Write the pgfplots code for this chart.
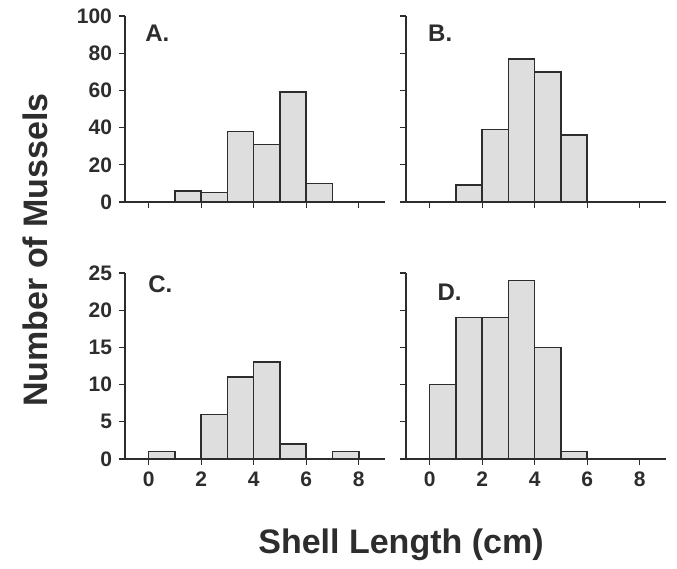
\documentclass[border=0pt]{standalone}
\usepackage{pgfplots}
\pgfplotsset{compat=1.18}
\usepackage{fontspec}
\setmainfont{Liberation Sans}
\definecolor{inkgray}{RGB}{45,45,45}
\definecolor{barfill}{RGB}{222,222,222}

\pgfplotsset{
  panel/.style={
    scale only axis, width=130pt, height=93pt,
    anchor=south west,
    xmin=-0.9, xmax=9, ymin=0,
    axis x line*=bottom, axis y line*=left,
    xtick={0,2,4,6,8},
    tick align=outside, xtick pos=bottom, ytick pos=left,
    major tick length=3pt,
    axis line style={inkgray, line width=0.8pt},
    every tick/.style={inkgray, line width=0.6pt},
    tick label style={font=\fontsize{10.5}{12}\selectfont\bfseries, text=inkgray},
    /pgf/number format/assume math mode=true,
    clip=false,
  },
  hist/.style={ybar interval, fill=barfill, draw=inkgray, line width=0.8pt},
}
\tikzset{letter/.style={anchor=north west, inner sep=0pt,
    font=\fontsize{12}{14}\selectfont\bfseries, text=inkgray}}

\begin{document}
\begin{tikzpicture}
\useasboundingbox (0,0) rectangle (338.5pt,284.5pt);

% A
\begin{axis}[panel, at={(62.5pt,183.5pt)}, ymax=100, ytick={0,20,...,100}, xticklabels={,,,,}]
\addplot[hist] coordinates {(1,6) (2,5) (3,38) (4,31) (5,59) (6,10) (7,0)};
\node[letter] at (rel axis cs:0.077,0.952) {A.};
\end{axis}

% B
\begin{axis}[panel, at={(203pt,183.5pt)}, ymax=100, ytick={0,20,...,100}, xticklabels={,,,,}, yticklabels={,,,,,}]
\addplot[hist] coordinates {(1,9) (2,39) (3,77) (4,70) (5,36) (6,0)};
\node[letter] at (rel axis cs:0.084,0.952) {B.};
\end{axis}

% C
\begin{axis}[panel, at={(62.5pt,55pt)}, ymax=25, ytick={0,5,...,25}]
\addplot[hist] coordinates {(0,1) (1,0) (2,6) (3,11) (4,13) (5,2) (6,0) (7,1) (8,0)};
\node[letter] at (rel axis cs:0.088,0.985) {C.};
\end{axis}

% D
\begin{axis}[panel, at={(203pt,55pt)}, ymax=25, ytick={0,5,...,25}, yticklabels={,,,,,}]
\addplot[hist] coordinates {(0,10) (1,19) (2,19) (3,24) (4,15) (5,1) (6,0)};
\node[letter] at (rel axis cs:0.12,0.945) {D.};
\end{axis}

\node[rotate=90, font=\fontsize{17}{20}\selectfont\bfseries, text=inkgray] at (17.5pt,159.5pt) {Number of Mussels};
\node[font=\fontsize{17}{20}\selectfont\bfseries, text=inkgray] at (200.5pt,12pt) {Shell Length (cm)};
\end{tikzpicture}
\end{document}
